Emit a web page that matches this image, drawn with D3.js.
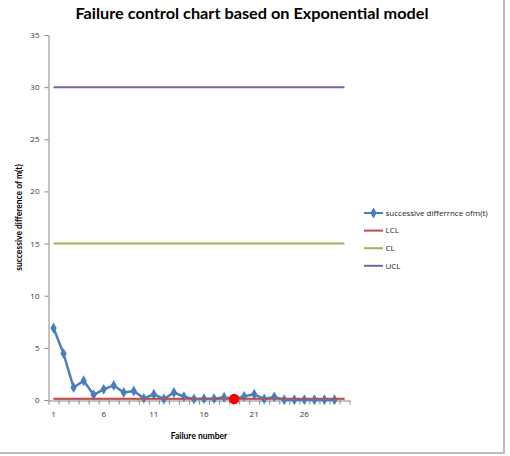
<!DOCTYPE html>
<html>
<head>
<meta charset="utf-8">
<script src="https://cdn.jsdelivr.net/npm/d3@7"></script>
<style>
  body { margin: 0; background: #fff; }
  svg text { font-family: Lato, "Open Sans", sans-serif; }
</style>
</head>
<body>
<div id="chart"></div>
<script>
// failure numbers on the category axis
const failureNumbers = d3.range(1, 31);
// successive difference of m(t) (29 values)
const successiveDiff = [6.9, 4.45, 1.2, 1.85, 0.5, 1.02, 1.4, 0.72, 0.86, 0.16,
  0.55, 0.1, 0.72, 0.32, 0.1, 0.13, 0.13, 0.26, 0.1, 0.35,
  0.55, 0.1, 0.3, 0.02, 0.02, 0.02, 0.02, 0.02, 0.02];
const lclValue = 0.13, clValue = 15, uclValue = 30;
const flaggedPoint = 19;   // red dot
const yTicks = [0, 5, 10, 15, 20, 25, 30, 35];
const xLabelTicks = [1, 6, 11, 16, 21, 26];

const W = 510, H = 456;
const svg = d3.select("#chart").append("svg")
    .attr("width", W).attr("height", H);

// outer chart border (only right/bottom visible in reference)
svg.append("line").attr("x1", 504).attr("x2", 504).attr("y1", 0).attr("y2", 453)
    .attr("stroke", "#bdbdbd").attr("stroke-width", 2);
svg.append("line").attr("x1", 0).attr("x2", 505).attr("y1", 453).attr("y2", 453)
    .attr("stroke", "#bdbdbd").attr("stroke-width", 2);

const x = d3.scaleBand().domain(failureNumbers).range([48.5, 349.5]).padding(0);
const xEdge = d3.scaleLinear().domain([0, failureNumbers.length]).range([48.5, 349.5]);
const y = d3.scaleLinear().domain([0, 35]).range([400, 35]);
const cx = d => x(d) + x.bandwidth() / 2;

// title
svg.append("text")
    .attr("x", 252).attr("y", 19)
    .attr("text-anchor", "middle")
    .attr("font-size", 16).attr("font-weight", "bold")
    .attr("fill", "#000")
    .attr("textLength", 353).attr("lengthAdjust", "spacingAndGlyphs")
    .text("Failure control chart based on Exponential model");

// y axis
const yAxis = svg.append("g")
    .attr("transform", "translate(48.5,0)")
    .call(d3.axisLeft(y).tickValues(yTicks).tickSize(4).tickPadding(5).tickSizeOuter(0));
yAxis.select(".domain").attr("stroke", "#868686");
yAxis.selectAll(".tick line").attr("stroke", "#868686");
yAxis.selectAll(".tick text").attr("font-size", 8).attr("fill", "#333")
    .style("font-family", "'Open Sans', sans-serif");

// x axis: minor ticks between categories, labels every 5
const xMinor = svg.append("g")
    .attr("transform", "translate(0,400.5)")
    .call(d3.axisBottom(xEdge).tickValues(d3.range(0, 31)).tickFormat("").tickSize(4).tickSizeOuter(0));
xMinor.select(".domain").attr("stroke", "#868686");
xMinor.selectAll(".tick line").attr("stroke", "#868686");

const xLab = svg.append("g")
    .attr("transform", "translate(0,400.5)")
    .call(d3.axisBottom(x).tickValues(xLabelTicks).tickSize(0).tickPadding(11));
xLab.select(".domain").remove();
xLab.selectAll(".tick text").attr("font-size", 8).attr("fill", "#333")
    .style("font-family", "'Open Sans', sans-serif");

// axis titles
svg.append("text")
    .attr("x", 199).attr("y", 439)
    .attr("text-anchor", "middle")
    .attr("font-size", 8.5).attr("font-weight", "bold")
    .text("Failure number");
svg.append("text")
    .attr("transform", "translate(22,217.5) rotate(-90)")
    .attr("text-anchor", "middle")
    .attr("font-size", 8.5).attr("font-weight", "bold")
    .text("successive difference of m(t)");

// control lines
const ctrl = [
  { name: "LCL", value: lclValue, color: "#be4b48" },
  { name: "CL",  value: clValue,  color: "#98b954" },
  { name: "UCL", value: uclValue, color: "#7d60a0" }
];
const line = d3.line().x(d => cx(d[0])).y(d => y(d[1]));
ctrl.slice().reverse().forEach(c => {
  svg.append("path")
      .datum(failureNumbers.map(n => [n, c.value]))
      .attr("d", line)
      .attr("fill", "none").attr("stroke", c.color).attr("stroke-width", 2);
});

// data series
const seriesColor = "#4a7ebb";
const pts = successiveDiff.map((v, i) => [failureNumbers[i], v]);
svg.append("path")
    .datum(pts)
    .attr("d", line)
    .attr("fill", "none").attr("stroke", seriesColor).attr("stroke-width", 2.5)
    .attr("stroke-linejoin", "round");
const diamond = d3.symbol().type(d3.symbolDiamond).size(34);
svg.append("g").selectAll("path")
    .data(pts)
    .join("path")
    .attr("transform", d => `translate(${cx(d[0])},${y(d[1])})`)
    .attr("d", diamond)
    .attr("fill", seriesColor);

// redraw LCL over markers
svg.append("path")
    .datum(failureNumbers.map(n => [n, lclValue]))
    .attr("d", line)
    .attr("fill", "none").attr("stroke", "#be4b48").attr("stroke-width", 1.5).attr("opacity", 0.8);

// flagged point
svg.append("circle")
    .attr("cx", cx(flaggedPoint)).attr("cy", y(successiveDiff[flaggedPoint - 1]))
    .attr("r", 5.2).attr("fill", "#ff0000");

// legend
const legendItems = [
  { name: "successive differrnce ofm(t)", color: seriesColor, marker: true },
  ...ctrl.map(c => ({ name: c.name, color: c.color, marker: false }))
];
const lg = svg.append("g").selectAll("g")
    .data(legendItems)
    .join("g")
    .attr("transform", (d, i) => `translate(364,${213 + i * 17.6})`);
lg.append("line").attr("x1", 0).attr("x2", 19).attr("y1", 0).attr("y2", 0)
    .attr("stroke", d => d.color).attr("stroke-width", 2);
lg.filter(d => d.marker).append("path")
    .attr("transform", "translate(9.5,0)")
    .attr("d", diamond).attr("fill", d => d.color);
lg.append("text")
    .attr("x", 21.5).attr("dy", "0.35em")
    .attr("font-size", 8).attr("fill", "#222")
    .style("font-family", "'Open Sans', sans-serif")
    .text(d => d.name);
</script>
</body>
</html>
